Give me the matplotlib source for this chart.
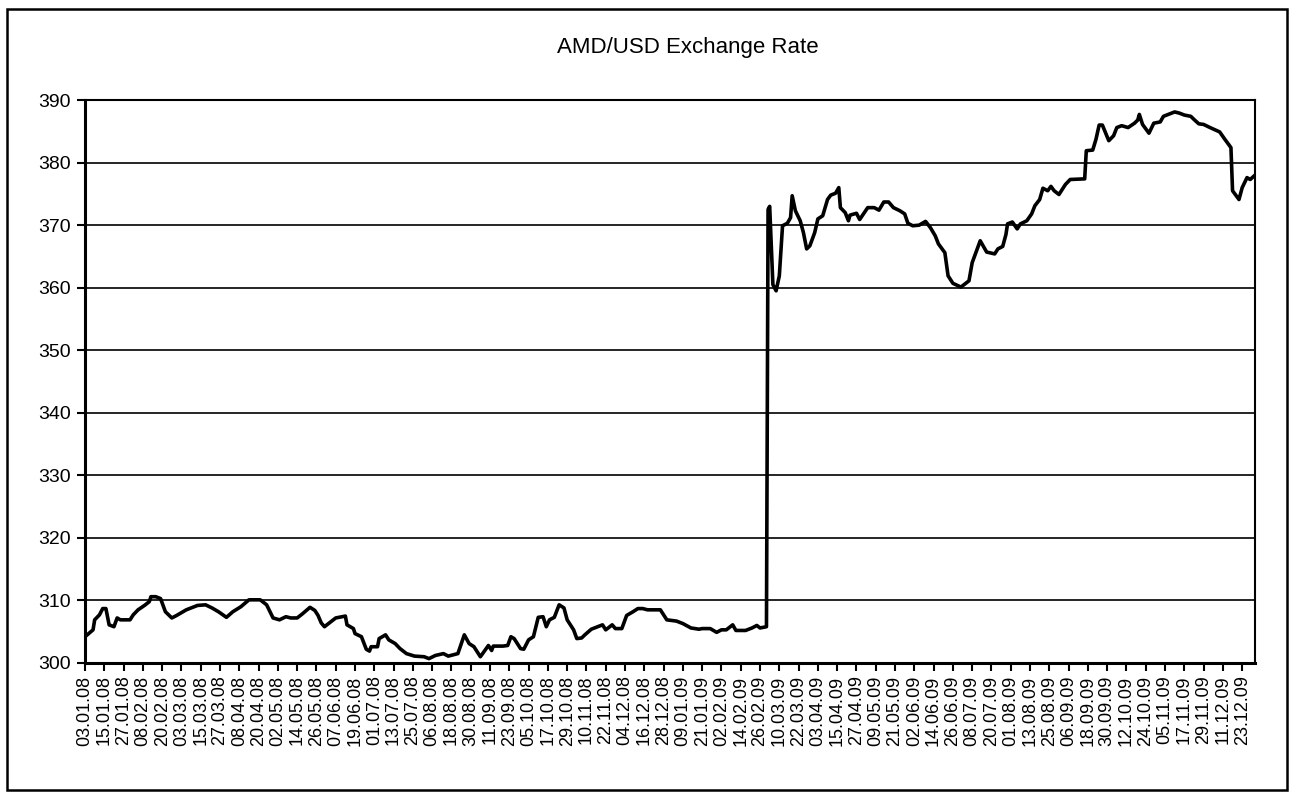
import matplotlib
matplotlib.use("Agg")
import matplotlib.pyplot as plt
import matplotlib.dates as mdates
from matplotlib.patches import Rectangle
import pandas as pd

plt.rcParams['font.family'] = ['Liberation Sans', 'DejaVu Sans']

# values (AMD per 1 USD)
dates = [
    "03.01.08", "08.01.08", "09.01.08", "12.01.08", "14.01.08", "16.01.08", "18.01.08", "21.01.08",
    "23.01.08", "25.01.08", "31.01.08", "02.02.08", "05.02.08", "09.02.08", "12.02.08", "13.02.08",
    "16.02.08", "19.02.08", "22.02.08", "26.02.08", "29.02.08", "06.03.08", "13.03.08", "18.03.08",
    "22.03.08", "26.03.08", "31.03.08", "04.04.08", "09.04.08", "14.04.08", "21.04.08", "25.04.08",
    "29.04.08", "03.05.08", "07.05.08", "10.05.08", "14.05.08", "17.05.08", "22.05.08", "25.05.08",
    "27.05.08", "29.05.08", "31.05.08", "02.06.08", "07.06.08", "13.06.08", "14.06.08", "18.06.08",
    "19.06.08", "23.06.08", "26.06.08", "28.06.08", "29.06.08", "03.07.08", "04.07.08", "08.07.08",
    "10.07.08", "14.07.08", "17.07.08", "21.07.08", "26.07.08", "01.08.08", "04.08.08", "08.08.08",
    "13.08.08", "16.08.08", "22.08.08", "26.08.08", "29.08.08", "01.09.08", "05.09.08", "10.09.08",
    "12.09.08", "13.09.08", "19.09.08", "22.09.08", "24.09.08", "26.09.08", "30.09.08", "02.10.08",
    "05.10.08", "08.10.08", "11.10.08", "14.10.08", "16.10.08", "18.10.08", "21.10.08", "24.10.08",
    "27.10.08", "29.10.08", "02.11.08", "04.11.08", "07.11.08", "09.11.08", "13.11.08", "17.11.08",
    "20.11.08", "22.11.08", "26.11.08", "28.11.08", "02.12.08", "05.12.08", "09.12.08", "12.12.08",
    "15.12.08", "18.12.08", "26.12.08", "30.12.08", "05.01.09", "09.01.09", "14.01.09", "19.01.09",
    "21.01.09", "26.01.09", "30.01.09", "02.02.09", "05.02.09", "09.02.09", "11.02.09", "17.02.09",
    "21.02.09", "24.02.09", "26.02.09", "02.03.09", "03.03.09", "04.03.09", "06.03.09", "08.03.09",
    "10.03.09", "12.03.09", "15.03.09", "17.03.09", "18.03.09", "20.03.09", "23.03.09", "25.03.09",
    "27.03.09", "29.03.09", "01.04.09", "03.04.09", "06.04.09", "09.04.09", "11.04.09", "14.04.09",
    "16.04.09", "17.04.09", "20.04.09", "22.04.09", "23.04.09", "27.04.09", "29.04.09", "04.05.09",
    "08.05.09", "11.05.09", "14.05.09", "17.05.09", "20.05.09", "24.05.09", "27.05.09", "29.05.09",
    "01.06.09", "05.06.09", "09.06.09", "12.06.09", "15.06.09", "17.06.09", "21.06.09", "23.06.09",
    "26.06.09", "01.07.09", "06.07.09", "08.07.09", "10.07.09", "13.07.09", "17.07.09", "22.07.09",
    "24.07.09", "27.07.09", "29.07.09", "30.07.09", "02.08.09", "05.08.09", "07.08.09", "11.08.09",
    "14.08.09", "16.08.09", "19.08.09", "21.08.09", "24.08.09", "26.08.09", "28.08.09", "31.08.09",
    "04.09.09", "07.09.09", "16.09.09", "17.09.09", "21.09.09", "23.09.09", "25.09.09", "27.09.09",
    "01.10.09", "04.10.09", "06.10.09", "09.10.09", "13.10.09", "17.10.09", "19.10.09", "20.10.09",
    "22.10.09", "26.10.09", "29.10.09", "02.11.09", "04.11.09", "11.11.09", "14.11.09", "17.11.09",
    "21.11.09", "23.11.09", "26.11.09", "29.11.09", "03.12.09", "09.12.09", "12.12.09", "16.12.09",
    "17.12.09", "21.12.09", "23.12.09", "26.12.09", "28.12.09", "31.12.09",
]
rates = [
    304.2, 305.3, 306.9, 307.7, 308.7, 308.7, 306.1, 305.8,
    307.2, 306.9, 306.9, 307.7, 308.5, 309.2, 309.8, 310.6,
    310.6, 310.3, 308.2, 307.2, 307.6, 308.5, 309.2, 309.3,
    308.8, 308.2, 307.3, 308.2, 309.0, 310.1, 310.1, 309.3,
    307.2, 306.9, 307.4, 307.2, 307.2, 307.8, 308.9, 308.4,
    307.6, 306.4, 305.8, 306.2, 307.2, 307.5, 306.1, 305.5,
    304.7, 304.2, 302.2, 301.9, 302.6, 302.6, 303.9, 304.5,
    303.7, 303.1, 302.3, 301.5, 301.1, 301.0, 300.7, 301.2,
    301.5, 301.1, 301.5, 304.5, 303.1, 302.6, 301.0, 302.8,
    302.0, 302.7, 302.7, 302.8, 304.2, 303.9, 302.3, 302.2,
    303.7, 304.2, 307.3, 307.4, 305.8, 306.9, 307.3, 309.3,
    308.8, 306.9, 305.3, 303.9, 304.0, 304.5, 305.4, 305.8,
    306.1, 305.3, 306.1, 305.5, 305.5, 307.6, 308.2, 308.7,
    308.7, 308.5, 308.5, 306.9, 306.7, 306.3, 305.6, 305.4,
    305.5, 305.5, 304.9, 305.3, 305.3, 306.1, 305.2, 305.2,
    305.6, 306.0, 305.6, 305.8, 372.5, 373.0, 360.5, 359.5,
    361.9, 369.9, 370.3, 371.2, 374.7, 372.3, 370.7, 368.8,
    366.2, 366.7, 368.8, 371.0, 371.5, 374.1, 374.8, 375.1,
    376.0, 372.8, 372.0, 370.7, 371.6, 371.9, 370.9, 372.8,
    372.8, 372.4, 373.7, 373.7, 372.8, 372.3, 371.8, 370.3,
    369.9, 370.0, 370.6, 369.6, 368.3, 367.0, 365.6, 361.9,
    360.7, 360.1, 361.1, 364.0, 365.4, 367.5, 365.7, 365.4,
    366.2, 366.6, 368.5, 370.2, 370.5, 369.4, 370.2, 370.7,
    371.8, 373.1, 374.1, 375.9, 375.5, 376.2, 375.5, 374.9,
    376.5, 377.3, 377.4, 381.9, 382.0, 383.7, 386.0, 386.0,
    383.5, 384.3, 385.6, 385.9, 385.6, 386.3, 386.8, 387.7,
    386.1, 384.7, 386.3, 386.5, 387.4, 388.1, 387.9, 387.6,
    387.4, 386.9, 386.2, 386.1, 385.6, 384.9, 383.8, 382.4,
    375.5, 374.1, 376.0, 377.6, 377.3, 378.0,
]
y_ticks = list(range(300, 391, 10))
first_tick = "03.01.08"
last_day = "31.12.09"
tick_step_days = 12

x = pd.to_datetime(dates, format="%d.%m.%y")

fig = plt.figure(figsize=(12.92, 7.94), dpi=100)
ax = fig.add_axes([0.0658, 0.165, 0.9056, 0.709])

ax.plot(x, rates, color="black", lw=2.6, solid_joinstyle="round", zorder=3)

ax.set_ylim(300, 390)
ax.set_yticks(y_ticks)
ax.yaxis.grid(True, color="black", lw=1.2)
ax.set_axisbelow(True)

start = pd.to_datetime(first_tick, format="%d.%m.%y")
end = pd.to_datetime(last_day, format="%d.%m.%y")
ax.set_xlim(start, end)
ticks = pd.date_range(start, end, freq=f"{tick_step_days}D")
ax.set_xticks(ticks)
ax.xaxis.set_major_formatter(mdates.DateFormatter("%d.%m.%y"))
plt.setp(ax.get_xticklabels(), rotation=90)

ax.tick_params(axis="both", color="black", width=1.5, length=6)
ax.tick_params(axis="x", labelsize=13, pad=3)
ax.tick_params(axis="y", labelsize=14, pad=4)
for side in ["left", "bottom"]:
    ax.spines[side].set_linewidth(2.2)
for side in ["top", "right"]:
    ax.spines[side].set_linewidth(1.5)

fig.text(0.532, 0.940, "AMD/USD Exchange Rate", ha="center", va="center", fontsize=16)

# chart border
fig.patches.append(Rectangle((0.0054, 0.005), 0.9906, 0.9835, transform=fig.transFigure,
                             fill=False, edgecolor="black", lw=1.8))

fig.savefig("out.png", dpi=100)
